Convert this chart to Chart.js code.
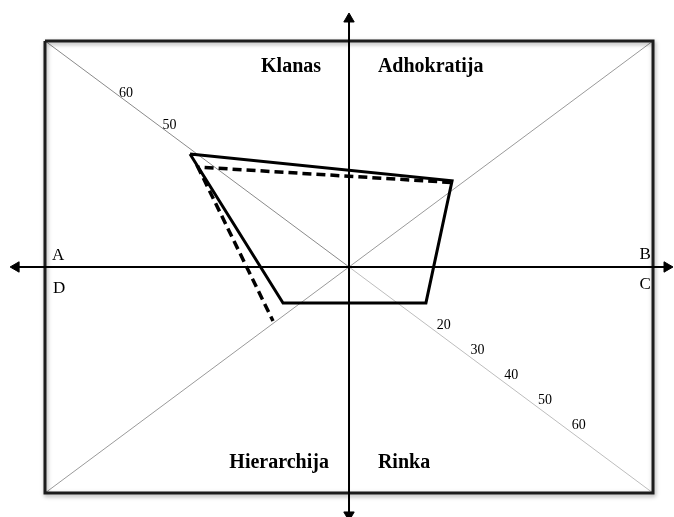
<!DOCTYPE html>
<html>
<head>
<meta charset="utf-8">
<script src="https://cdn.jsdelivr.net/npm/chart.js@4/dist/chart.umd.min.js"></script>
<style>
  html, body { margin: 0; padding: 0; background: #ffffff; }
  #wrap { width: 674px; height: 517px; position: relative; }
</style>
</head>
<body>
<div id="wrap"><canvas id="c"></canvas></div>
<script>
// ---- data (frame spans -100..100 on both axes) ----
const quadrantNames = ['Klanas', 'Adhokratija', 'Hierarchija', 'Rinka'];
const cornerLetters = ['A', 'B', 'C', 'D'];
const diagTicksLowerRight = [20, 30, 40, 50, 60];
const diagTicksUpperLeft = [50, 60];

// profile 1 (solid) : Klanas, Adhokratija, Rinka, Hierarchija vertices
const solidX = [-52.3, 33.9, 25.3, -21.7, -52.3];
const solidY = [50.0, 38.1, -15.9, -15.9, 50.0];
// profile 2 (dashed)
const dashedX = [33.6, -49.7, -25.0];
const dashedY = [37.4, 44.2, -23.9];

// frame
const frameX = [-100, 100, 100, -100, -100];
const frameY = [100, 100, -100, -100, 100];

// ---- layout (not data) ----
const X_MIN = -114.8, X_MAX = 106.9, Y_MIN = -110.6, Y_MAX = 118.1;
const quadPos = [
  { x: -9.2, y: 86.3, align: 'right' },
  { x: 9.5, y: 86.3, align: 'left' },
  { x: -6.6, y: -88.9, align: 'right' },
  { x: 9.5, y: -88.9, align: 'left' }
];
const letterPos = [
  { x: -97.7, y: 3.1, align: 'left' },
  { x: 99.3, y: 3.5, align: 'right' },
  { x: 99.3, y: -9.7, align: 'right' },
  { x: -97.4, y: -11.5, align: 'left' }
];

function pts(xs, ys) { return xs.map((v, i) => ({ x: v, y: ys[i] })); }

const lineDs = (label, data, color, width, dash) => ({
  label, data, showLine: true, fill: false, tension: 0,
  borderColor: color, borderWidth: width, borderDash: dash || [],
  pointRadius: 0, pointHoverRadius: 0, clip: false,
  borderJoinStyle: 'miter', borderCapStyle: 'butt'
});

const datasets = [
  lineDs('solid', pts(solidX, solidY), '#000', 3),
  lineDs('dashed', pts(dashedX, dashedY), '#000', 3.5, [9, 5]),
  {
    label: 'arrows',
    data: [{ x: 0, y: 109.7 }, { x: 0, y: -109.7 }, { x: -109.5, y: 0 }, { x: 104.6, y: 0 }],
    showLine: false, pointStyle: 'triangle', pointRadius: 6, pointHoverRadius: 6,
    rotation: [0, 180, 270, 90], backgroundColor: '#000', borderColor: '#000', borderWidth: 1, clip: false
  },
  lineDs('hAxis', [{ x: -109.5, y: 0 }, { x: 104.6, y: 0 }], '#000', 2),
  lineDs('vAxis', [{ x: 0, y: Y_MIN }, { x: 0, y: 109.7 }], '#000', 2),
  lineDs('frame', pts(frameX, frameY), '#1c1c1c', 3),
  lineDs('diagUL', [{ x: -100, y: 100 }, { x: 0, y: 0 }], '#8a8a8a', 1),
  lineDs('diagLR', [{ x: 0, y: 0 }, { x: 100, y: -100 }], '#bdbdbd', 1),
  lineDs('diagLL', [{ x: -100, y: -100 }, { x: 0, y: 0 }], '#9a9a9a', 1),
  lineDs('diagUR', [{ x: 0, y: 0 }, { x: 100, y: 100 }], '#9a9a9a', 1)
];

const shadowPlugin = {
  id: 'frameShadow',
  beforeDatasetDraw(chart, args) {
    if (chart.data.datasets[args.index].label === 'frame') {
      const ctx = chart.ctx;
      ctx.save();
      ctx.shadowColor = 'rgba(0,0,0,0.35)';
      ctx.shadowBlur = 4;
      ctx.shadowOffsetX = 1;
      ctx.shadowOffsetY = 2;
    }
  },
  afterDatasetDraw(chart, args) {
    if (chart.data.datasets[args.index].label === 'frame') chart.ctx.restore();
  }
};

const textPlugin = {
  id: 'texts',
  afterDatasetsDraw(chart) {
    const ctx = chart.ctx, sx = chart.scales.x, sy = chart.scales.y;
    ctx.save();
    ctx.fillStyle = '#000';
    ctx.textBaseline = 'alphabetic';
    ctx.font = 'bold 20px "Liberation Serif", "Times New Roman", serif';
    quadrantNames.forEach((t, i) => {
      const p = quadPos[i];
      ctx.textAlign = p.align;
      ctx.fillText(t, sx.getPixelForValue(p.x), sy.getPixelForValue(p.y));
    });
    ctx.font = '17px "Liberation Serif", "Times New Roman", serif';
    cornerLetters.forEach((t, i) => {
      const p = letterPos[i];
      ctx.textAlign = p.align;
      ctx.fillText(t, sx.getPixelForValue(p.x), sy.getPixelForValue(p.y));
    });
    ctx.font = '14px "Liberation Serif", "Times New Roman", serif';
    ctx.textAlign = 'center';
    ctx.textBaseline = 'middle';
    diagTicksLowerRight.forEach(v => {
      const t = 6.3 + 1.11 * v;
      ctx.fillText(String(v), sx.getPixelForValue(t) + 8, sy.getPixelForValue(-t) - 6);
    });
    diagTicksUpperLeft.forEach(v => {
      const t = 1.43 * v - 10.8;
      ctx.fillText(String(v), sx.getPixelForValue(-t) + 5, sy.getPixelForValue(t) - 4);
    });
    ctx.restore();
  }
};

new Chart(document.getElementById('c'), {
  type: 'scatter',
  data: { datasets },
  options: {
    responsive: true,
    maintainAspectRatio: false,
    animation: false,
    layout: { padding: 0, autoPadding: false },
    plugins: { legend: { display: false }, tooltip: { enabled: false } },
    events: [],
    scales: {
      x: { type: 'linear', min: X_MIN, max: X_MAX, display: false },
      y: { type: 'linear', min: Y_MIN, max: Y_MAX, display: false }
    }
  },
  plugins: [shadowPlugin, textPlugin]
});
</script>
</body>
</html>
